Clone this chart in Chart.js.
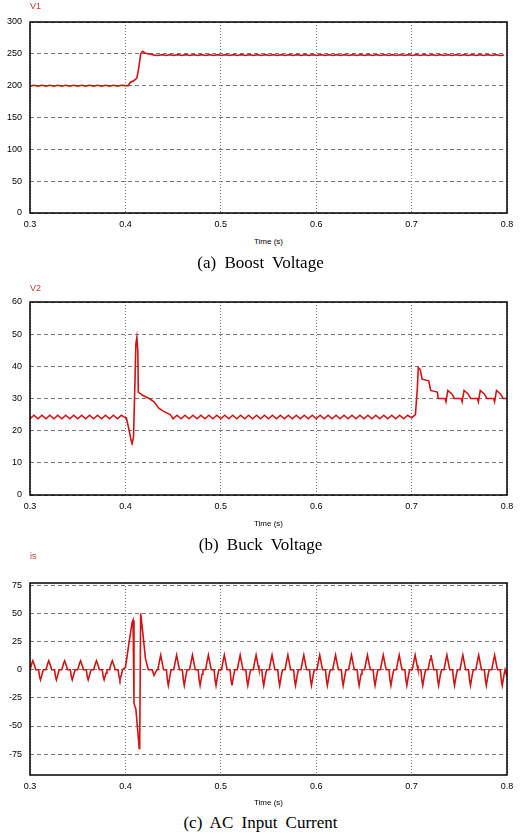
<!DOCTYPE html>
<html>
<head>
<meta charset="utf-8">
<script src="https://cdn.jsdelivr.net/npm/chart.js@4/dist/chart.umd.min.js"></script>
<style>
  body { margin: 0; background: #fff; width: 521px; height: 840px; position: relative; overflow: hidden; }
  .box { position: absolute; left: 0; width: 521px; }
  .sig { position: absolute; left: 30px; font: 9px "Liberation Sans", Arial, sans-serif; color: #c0392b; }
  .tlab { position: absolute; left: 254px; font: 8px "Liberation Sans", Arial, sans-serif; color: #000; }
  .cap { position: absolute; left: 0; width: 521px; text-align: center; font: 17px "Liberation Serif", "Times New Roman", serif; word-spacing: 4px; color: #000; }
</style>
</head>
<body>
<div class="box" style="top:0;height:235px"><canvas id="c1"></canvas></div>
<div class="box" style="top:280px;height:237px"><canvas id="c2"></canvas></div>
<div class="box" style="top:561px;height:236px"><canvas id="c3"></canvas></div>
<div class="sig" style="top:1px">V1</div>
<div class="sig" style="top:283px">V2</div>
<div class="sig" style="top:551px">is</div>
<div class="tlab" style="top:237px">Time (s)</div>
<div class="tlab" style="top:519px">Time (s)</div>
<div class="tlab" style="top:798px">Time (s)</div>
<div class="cap" style="top:253px">(a) Boost Voltage</div>
<div class="cap" style="top:535px">(b) Buck Voltage</div>
<div class="cap" style="top:813px">(c) AC Input Current</div>
<script>
// Sample spacing for the ripple arrays (s)
const DT = 1 / 240;
const X_TICKS = [0.3, 0.4, 0.5, 0.6, 0.7, 0.8];

// (a) Boost voltage
const boostPre = [199.3,200.7,199.3,200.7,199.3,200.7,199.3,200.7,199.3,200.7,199.3,200.7,199.3,200.7,199.3,200.7,199.3,200.7,199.3,200.7,199.3,200.7,199.3,200.7,200];
const boostStep = [[0.403,200],[0.405,205],[0.409,208],[0.412,212],[0.414,228],[0.416,250],[0.418,254],[0.421,251],[0.428,249]];
const boostPost = [248,247.3,248.7,247.3,248.7,247.3,248.7,247.3,248.7,247.3,248.7,247.3,248.7,247.3,248.7,247.3,248.7,247.3,248.7,247.3,248.7,247.3,248.7,247.3,248.7,247.3,248.7,247.3,248.7,247.3,
  248.7,247.3,248.7,247.3,248.7,247.3,248.7,247.3,248.7,247.3,248.7,247.3,248.7,247.3,248.7,247.3,248.7,247.3,248.7,247.3,248.7,247.3,248.7,247.3,248.7,247.3,248.7,247.3,248.7,247.3,
  248.7,247.3,248.7,247.3,248.7,247.3,248.7,247.3,248.7,247.3,248.7,247.3,248.7,247.3,248.7,247.3,248.7,247.3,248.7,247.3,248.7,247.3,248.7,247.3,248.7,247.3,248.7,247.3,248];

// (b) Buck voltage
const buckPre = [23.7,24.8,23.7,24.8,23.7,24.8,23.7,24.8,23.7,24.8,23.7,24.8,23.7,24.8,23.7,24.8,23.7,24.8,23.7,24.8,23.7,24.8,23.7,24.8,24];
const buckStep1 = [[0.401,24],[0.404,20],[0.406,17],[0.407,16],[0.4085,18],[0.41,35],[0.411,47],[0.412,49],[0.413,45],[0.4135,32],
  [0.418,31],[0.425,30],[0.43,29],[0.435,27],[0.44,26],[0.447,25]];
const buckMid = [23.7,24.8,23.7,24.8,23.7,24.8,23.7,24.8,23.7,24.8,23.7,24.8,23.7,24.8,23.7,24.8,23.7,24.8,23.7,24.8,23.7,24.8,23.7,24.8,23.7,24.8,23.7,24.8,23.7,24.8,
  23.7,24.8,23.7,24.8,23.7,24.8,23.7,24.8,23.7,24.8,23.7,24.8,23.7,24.8,23.7,24.8,23.7,24.8,23.7,24.8,23.7,24.8,23.7,24.8,23.7,24.8,23.7,24.8,23.7,24.8,24];
const buckStep2 = [[0.704,25],[0.706,33],[0.707,39.6],[0.709,39],[0.711,36],[0.718,35.5],[0.72,32.5],[0.727,32],[0.728,30],[0.735,30],[0.736,29],
  [0.738,32.5],[0.742,31.5],[0.745,30],[0.752,30],[0.753,29],
  [0.755,32.5],[0.759,31.5],[0.762,30],[0.769,30],[0.770,29],
  [0.772,32.5],[0.776,31.5],[0.779,30],[0.786,30],[0.787,29],
  [0.789,32.5],[0.793,31.5],[0.796,30],[0.8,30]];

// (c) AC input current
const currentPts = [
  [0.3,0],[0.302,6],[0.303,8],[0.305,3],[0.306,0],[0.309,0],[0.310,-6],[0.311,-9],[0.313,-3],[0.314,0],
  [0.3167,0],[0.3187,6],[0.3197,8],[0.3217,3],[0.3227,0],[0.3257,0],[0.3267,-6],[0.3277,-9],[0.3297,-3],[0.3307,0],
  [0.3333,0],[0.3353,6],[0.3363,8],[0.3383,3],[0.3393,0],[0.3423,0],[0.3433,-6],[0.3443,-9],[0.3463,-3],[0.3473,0],
  [0.35,0],[0.352,6],[0.353,8],[0.355,3],[0.356,0],[0.359,0],[0.360,-6],[0.361,-9],[0.363,-3],[0.364,0],
  [0.3667,0],[0.3687,6],[0.3697,8],[0.3717,3],[0.3727,0],[0.3757,0],[0.3767,-6],[0.3777,-9],[0.3797,-3],[0.3807,0],
  [0.3833,0],[0.3853,6],[0.3863,8],[0.3883,3],[0.3893,0],[0.3923,0],[0.3933,-6],[0.3943,-9],[0.3963,-3],[0.397,0],
  [0.4,2],[0.404,25],[0.407,42],[0.408,44],[0.409,-30],[0.411,-35],[0.413,-55],[0.4145,-70],[0.415,-65],[0.416,50],[0.418,35],
  [0.421,10],[0.424,0],[0.428,0],[0.430,-5],[0.433,0],
  [0.434,0],[0.436,9],[0.437,13],[0.439,4],[0.440,0],[0.443,0],[0.444,-9],[0.445,-14],[0.447,-4],[0.448,0],
  [0.4507,0],[0.4527,9],[0.4537,13],[0.4557,4],[0.4567,0],[0.4597,0],[0.4607,-9],[0.4617,-14],[0.4637,-4],[0.4647,0],
  [0.4673,0],[0.4693,9],[0.4703,13],[0.4723,4],[0.4733,0],[0.4763,0],[0.4773,-9],[0.4783,-14],[0.4803,-4],[0.4813,0],
  [0.484,0],[0.486,9],[0.487,13],[0.489,4],[0.490,0],[0.493,0],[0.494,-9],[0.495,-14],[0.497,-4],[0.498,0],
  [0.5007,0],[0.5027,9],[0.5037,13],[0.5057,4],[0.5067,0],[0.5097,0],[0.5107,-9],[0.5117,-14],[0.5137,-4],[0.5147,0],
  [0.5173,0],[0.5193,9],[0.5203,13],[0.5223,4],[0.5233,0],[0.5263,0],[0.5273,-9],[0.5283,-14],[0.5303,-4],[0.5313,0],
  [0.534,0],[0.536,9],[0.537,13],[0.539,4],[0.540,0],[0.543,0],[0.544,-9],[0.545,-14],[0.547,-4],[0.548,0],
  [0.5507,0],[0.5527,9],[0.5537,13],[0.5557,4],[0.5567,0],[0.5597,0],[0.5607,-9],[0.5617,-14],[0.5637,-4],[0.5647,0],
  [0.5673,0],[0.5693,9],[0.5703,13],[0.5723,4],[0.5733,0],[0.5763,0],[0.5773,-9],[0.5783,-14],[0.5803,-4],[0.5813,0],
  [0.584,0],[0.586,9],[0.587,13],[0.589,4],[0.590,0],[0.593,0],[0.594,-9],[0.595,-14],[0.597,-4],[0.598,0],
  [0.6007,0],[0.6027,9],[0.6037,13],[0.6057,4],[0.6067,0],[0.6097,0],[0.6107,-9],[0.6117,-14],[0.6137,-4],[0.6147,0],
  [0.6173,0],[0.6193,9],[0.6203,13],[0.6223,4],[0.6233,0],[0.6263,0],[0.6273,-9],[0.6283,-14],[0.6303,-4],[0.6313,0],
  [0.634,0],[0.636,9],[0.637,13],[0.639,4],[0.640,0],[0.643,0],[0.644,-9],[0.645,-14],[0.647,-4],[0.648,0],
  [0.6507,0],[0.6527,9],[0.6537,13],[0.6557,4],[0.6567,0],[0.6597,0],[0.6607,-9],[0.6617,-14],[0.6637,-4],[0.6647,0],
  [0.6673,0],[0.6693,9],[0.6703,13],[0.6723,4],[0.6733,0],[0.6763,0],[0.6773,-9],[0.6783,-14],[0.6803,-4],[0.6813,0],
  [0.684,0],[0.686,9],[0.687,13],[0.689,4],[0.690,0],[0.693,0],[0.694,-9],[0.695,-14],[0.697,-4],[0.698,0],
  [0.7007,0],[0.7027,9],[0.7037,13],[0.7057,4],[0.7067,0],[0.7097,0],[0.7107,-9],[0.7117,-14],[0.7137,-4],[0.7147,0],
  [0.7173,0],[0.7193,9],[0.7203,13],[0.7223,4],[0.7233,0],[0.7263,0],[0.7273,-9],[0.7283,-14],[0.7303,-4],[0.7313,0],
  [0.734,0],[0.736,9],[0.737,13],[0.739,4],[0.740,0],[0.743,0],[0.744,-9],[0.745,-14],[0.747,-4],[0.748,0],
  [0.7507,0],[0.7527,9],[0.7537,13],[0.7557,4],[0.7567,0],[0.7597,0],[0.7607,-9],[0.7617,-14],[0.7637,-4],[0.7647,0],
  [0.7673,0],[0.7693,9],[0.7703,13],[0.7723,4],[0.7733,0],[0.7763,0],[0.7773,-9],[0.7783,-14],[0.7803,-4],[0.7813,0],
  [0.784,0],[0.786,9],[0.787,13],[0.789,4],[0.790,0],[0.793,0],[0.794,-9],[0.795,-14],[0.797,-4],[0.798,0],[0.8,-6]
];

function sampled(vals, t0) {
  return vals.map((v, i) => ({ x: t0 + i * DT, y: v }));
}
function pairs(arr) {
  return arr.map(p => ({ x: p[0], y: p[1] }));
}

const boostData = [].concat(sampled(boostPre, 0.3), pairs(boostStep), sampled(boostPost, 0.43));
const buckData = [].concat(sampled(buckPre, 0.3), pairs(buckStep1), sampled(buckMid, 0.45), pairs(buckStep2));
const currentData = pairs(currentPts);

// frame around the plot area
const framePlugin = {
  id: 'frame',
  afterDraw(chart) {
    const a = chart.chartArea, ctx = chart.ctx;
    ctx.save();
    ctx.strokeStyle = '#000';
    ctx.lineWidth = 1.5;
    ctx.strokeRect(a.left, a.top, a.right - a.left, a.bottom - a.top);
    ctx.restore();
  }
};

function makeChart(id, data, yMin, yMax, yTicks) {
  return new Chart(document.getElementById(id), {
    type: 'line',
    data: { datasets: [{ data: data, borderColor: '#d01414', borderWidth: 1.6, pointRadius: 0, tension: 0 }] },
    options: {
      responsive: true,
      maintainAspectRatio: false,
      animation: false,
      layout: { padding: { top: 22, right: 14, left: 0, bottom: 0 } },
      plugins: { legend: { display: false }, tooltip: { enabled: false } },
      scales: {
        x: {
          type: 'linear', min: 0.3, max: 0.8,
          afterBuildTicks: s => { s.ticks = X_TICKS.map(v => ({ value: v })); },
          afterFit: s => { s.height = 22; },
          grid: { color: '#777', drawTicks: false },
          border: { display: false, dash: [1, 2] },
          ticks: { padding: 6, color: '#000', font: { size: 9, family: 'Liberation Sans Narrow, Liberation Sans' }, callback: v => v.toFixed(1) }
        },
        y: {
          min: yMin, max: yMax,
          afterBuildTicks: s => { s.ticks = yTicks.map(v => ({ value: v })); },
          afterFit: s => { s.width = 30; },
          grid: { color: '#777', drawTicks: false },
          border: { display: false, dash: [4, 3] },
          ticks: { padding: 8, color: '#000', font: { size: 9, family: 'Liberation Sans Narrow, Liberation Sans' } }
        }
      }
    },
    plugins: [framePlugin]
  });
}

makeChart('c1', boostData, 0, 300, [0, 50, 100, 150, 200, 250, 300]);
makeChart('c2', buckData, 0, 60, [0, 10, 20, 30, 40, 50, 60]);
makeChart('c3', currentData, -93.5, 77, [-75, -50, -25, 0, 25, 50, 75]);
</script>
</body>
</html>
